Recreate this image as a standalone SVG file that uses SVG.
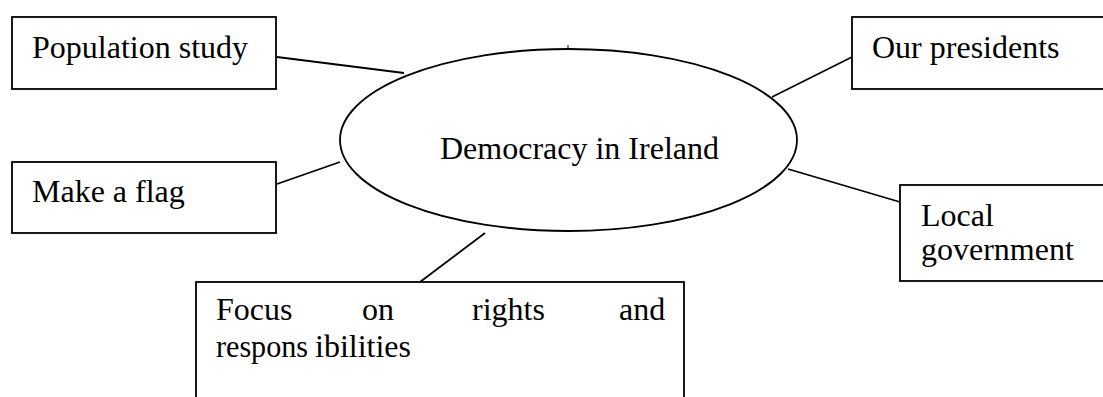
<svg xmlns="http://www.w3.org/2000/svg" width="1103" height="397" viewBox="0 0 1103 397">
<style>
.box{fill:#fff;stroke:#000;stroke-width:1.8}
.con line{stroke:#000;stroke-width:1.8}
text{font-family:"Liberation Serif","Times New Roman",serif;font-size:32px;fill:#000}
</style>
<rect width="1103" height="397" fill="#fff"/>
<g id="connectors" class="con">
<line x1="277" y1="57" x2="404" y2="73"/>
<line x1="852" y1="57" x2="772" y2="97"/>
<line x1="277" y1="184" x2="340" y2="162"/>
<line x1="788" y1="169" x2="900" y2="202"/>
<line x1="420" y1="282" x2="485" y2="233"/>
</g>
<g id="center">
<ellipse class="box" cx="568.5" cy="140" rx="228.5" ry="91"/>
<line x1="568" y1="45" x2="568" y2="50" stroke="#000" stroke-width="1"/>
<text x="440" y="159">Democracy in Ireland</text>
</g>
<g id="population">
<rect class="box" x="12" y="17" width="264" height="72"/>
<text x="32" y="58">Population study</text>
</g>
<g id="presidents">
<rect class="box" x="852" y="17" width="260" height="72"/>
<text x="872" y="58">Our presidents</text>
</g>
<g id="flag">
<rect class="box" x="12" y="162" width="264" height="71"/>
<text x="32" y="202">Make a flag</text>
</g>
<g id="local">
<rect class="box" x="900" y="185" width="212" height="96"/>
<text x="921" y="226">Local</text>
<text x="921" y="260">government</text>
</g>
<g id="focus">
<rect class="box" x="196" y="282" width="488" height="130"/>
<text y="320"><tspan x="216">Focus</tspan><tspan x="362">on</tspan><tspan x="472">rights</tspan><tspan x="619">and</tspan></text>
<text y="357"><tspan x="216" textLength="92" lengthAdjust="spacingAndGlyphs">respons</tspan><tspan x="315">ibilities</tspan></text>
</g>
</svg>
